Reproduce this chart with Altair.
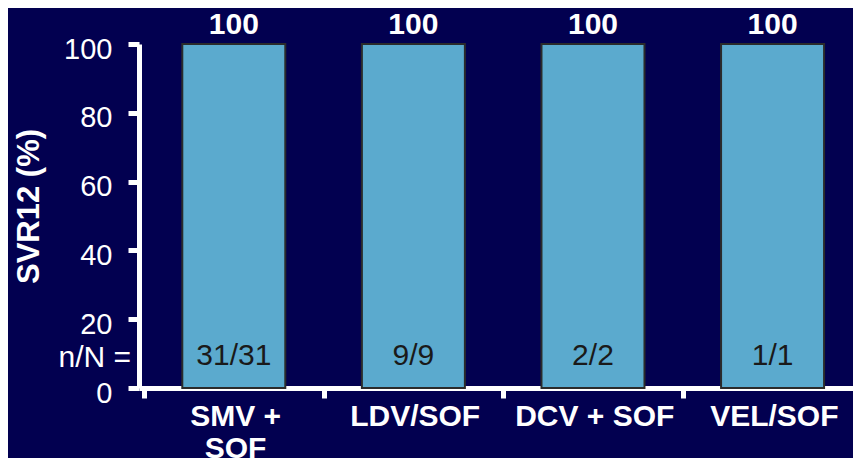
import altair as alt
import pandas as pd

categories = ["SMV + SOF", "LDV/SOF", "DCV + SOF", "VEL/SOF"]
label_lines = [["SMV +", "SOF"], ["LDV/SOF"], ["DCV + SOF"], ["VEL/SOF"]]
svr12 = [100, 100, 100, 100]
n_over_N = ["31/31", "9/9", "2/2", "1/1"]
y_ticks = [0, 20, 40, 60, 80, 100]

BG = "#020050"
BAR = "#5BAACE"
FONT = "Liberation Sans"

df = pd.DataFrame({
    "idx": list(range(len(categories))),
    "category": categories,
    "svr": svr12,
    "n": n_over_N,
})

W, H = 714, 344
x_domain = [-0.5, 3.42]
px_per_unit = W / (x_domain[1] - x_domain[0])

label_array = "[" + ",".join("[" + ",".join("'" + s + "'" for s in l) + "]" for l in label_lines) + "]"

x_scale = alt.Scale(domain=x_domain, nice=False, zero=False)
y_scale = alt.Scale(domain=[0, 100], nice=False)

x_axis = alt.Axis(
    values=[i - 0.5 for i in range(len(categories))],
    labelExpr=f"{label_array}[round(datum.value + 0.5)]",
    labelOffset=px_per_unit / 2,
    title=None, grid=False,
    domainColor="white", domainWidth=5,
    tickColor="white", tickWidth=5, tickSize=10,
    labelColor="white", labelFont=FONT, labelFontSize=30, labelFontWeight="bold",
    labelPadding=3, labelLineHeight=32, labelOverlap=False, labelFlush=False,
    labelBound=False, labelAlign="center", labelBaseline="top",
)
y_axis = alt.Axis(
    values=y_ticks, title="SVR12 (%)", grid=False,
    domainColor="white", domainWidth=5,
    tickColor="white", tickWidth=5, tickSize=11,
    labelColor="white", labelFont=FONT, labelFontSize=29, labelPadding=16,
    labelOffset=5, labelBaseline="middle",
    titleColor="white", titleFont=FONT, titleFontSize=31, titleFontWeight="bold",
    titleAngle=270, titleAlign="center", titleBaseline="middle",
    titleX=-110, titleY=162,
)

base = alt.Chart(df)

bars = base.mark_bar(size=103, color=BAR, stroke="#2b2b2b", strokeWidth=2).encode(
    x=alt.X("idx:Q", scale=x_scale, axis=x_axis),
    y=alt.Y("svr:Q", scale=y_scale, axis=y_axis),
)

top_labels = base.mark_text(
    font=FONT, fontSize=30, fontWeight="bold", color="white", baseline="alphabetic", dy=-10.5
).encode(x="idx:Q", y="svr:Q", text="svr:Q")

inner_labels = base.mark_text(
    font=FONT, fontSize=30, color="#1a1a1a", baseline="middle"
).encode(x="idx:Q", y=alt.datum(9.4), text="n:N")

nn_label = alt.Chart(pd.DataFrame({"t": ["n/N ="]})).mark_text(
    font=FONT, fontSize=30, color="white", align="right", baseline="middle"
).encode(x=alt.value(-8), y=alt.datum(8.8), text="t:N")

chart = alt.layer(bars, top_labels, inner_labels, nn_label).properties(
    width=W, height=H,
    background=BG,
    padding={"left": 131, "top": 36, "right": 0, "bottom": 70},
    autosize=alt.AutoSizeParams(type="none"),
).configure_view(stroke=None)

chart.save("out.html", embed_options={"renderer": "svg", "actions": False})
